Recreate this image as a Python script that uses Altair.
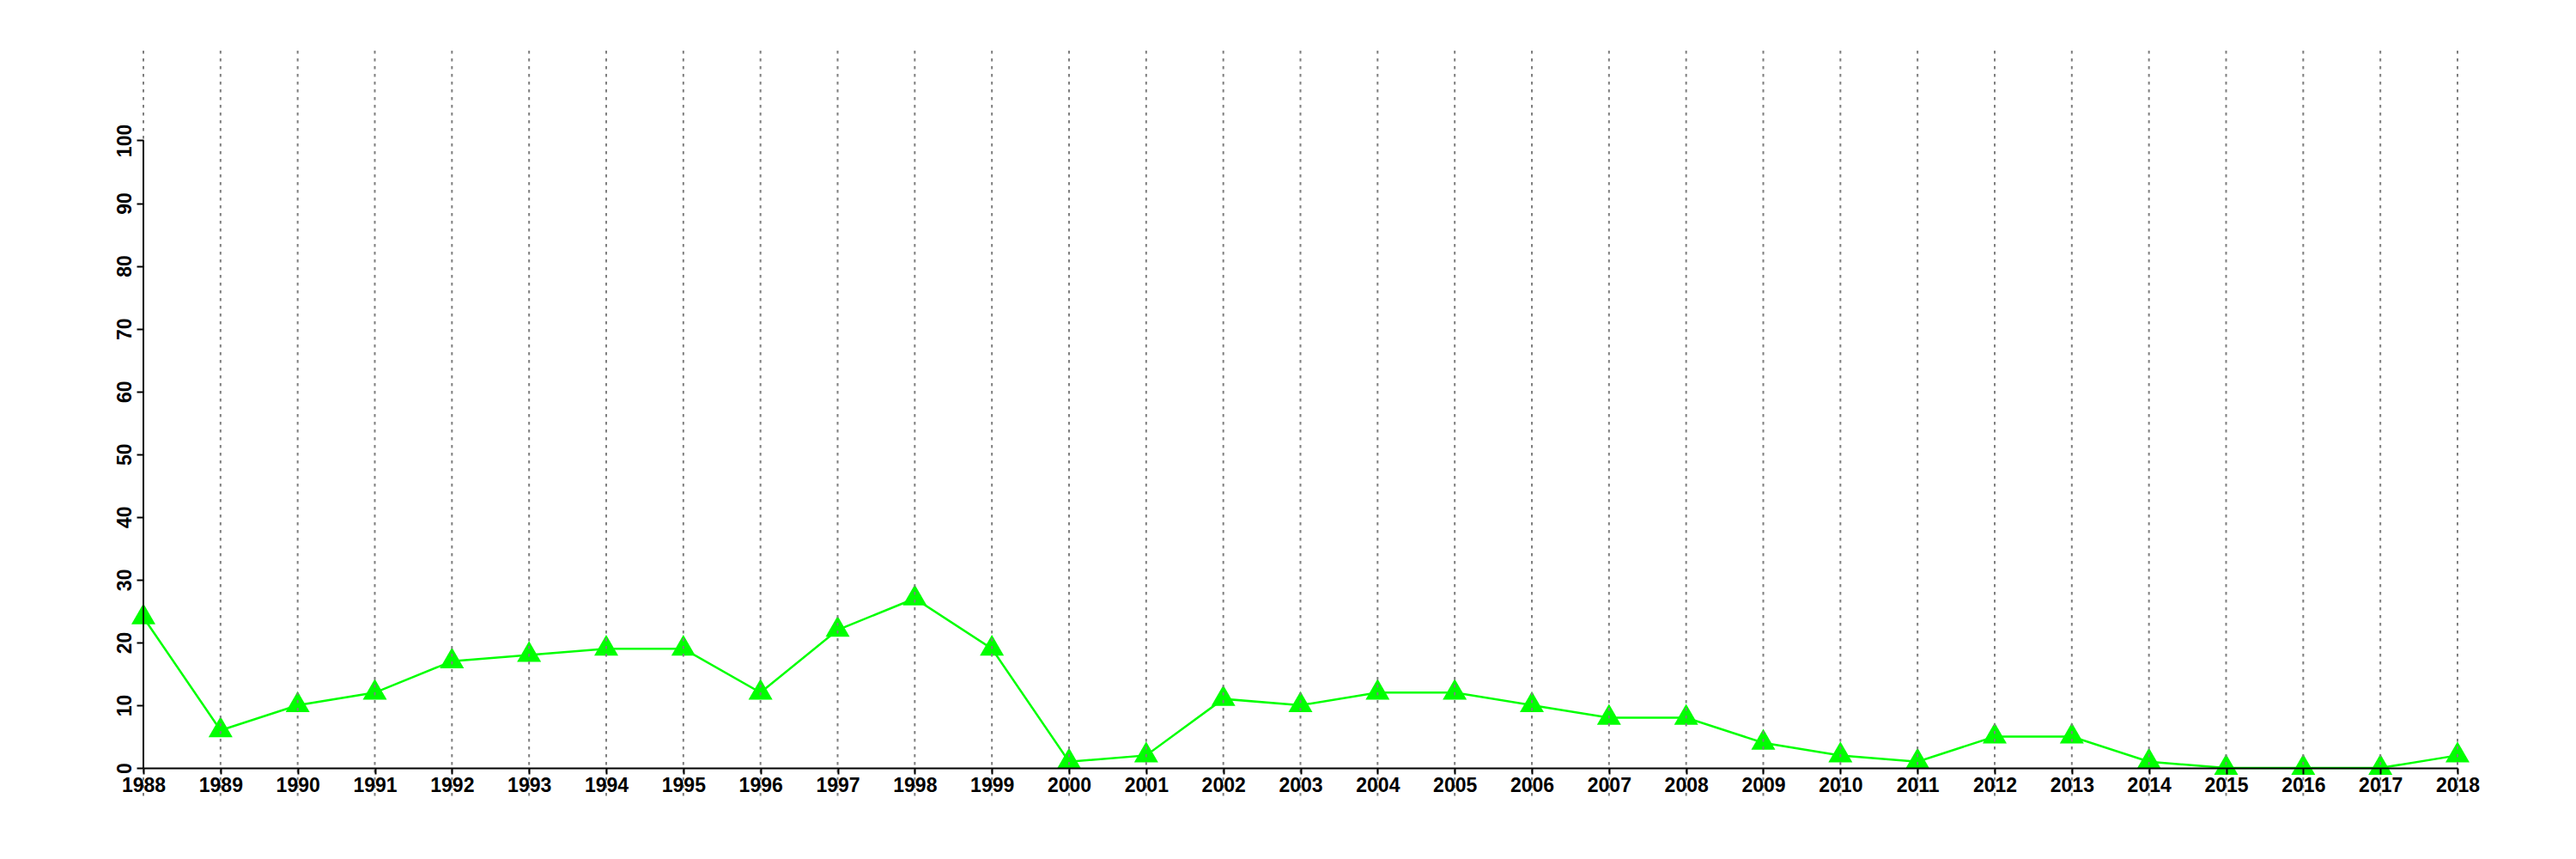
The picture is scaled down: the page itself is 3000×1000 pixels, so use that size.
import altair as alt
import pandas as pd

years = list(range(1988, 2019))
values = [24, 6, 10, 12, 17, 18, 19, 19, 12, 22, 27, 19, 1, 2, 11, 10, 12, 12,
          10, 8, 8, 4, 2, 1, 5, 5, 1, 0, 0, 0, 2]
y_ticks = [0, 10, 20, 30, 40, 50, 60, 70, 80, 90, 100]

df = pd.DataFrame({"year": years, "value": values})
axis_df = pd.DataFrame({"lo": [min(y_ticks)], "hi": [max(y_ticks)], "x": [min(years)]})

FONT = "Liberation Sans"
GREEN = "#00FF00"

xscale = alt.Scale(domain=[min(years), max(years)], nice=False, zero=False)
yscale = alt.Scale(domain=[0, 114.3], nice=False, zero=True)

xaxis = alt.Axis(values=years, format="d", title=None, grid=False,
                 labelFont=FONT, labelFontSize=23, labelFontWeight="bold",
                 labelColor="black", tickColor="black", tickWidth=2, tickSize=7,
                 domainColor="black", domainWidth=2, labelPadding=2,
                 labelAngle=0, labelOverlap=False, labelFlush=False, zindex=1)
yaxis = alt.Axis(values=y_ticks, title=None, grid=False, domain=False,
                 labelFont=FONT, labelFontSize=23, labelFontWeight="bold",
                 labelColor="black", tickColor="black", tickWidth=2, tickSize=8,
                 labelAngle=270, labelAlign="center", labelBaseline="alphabetic",
                 labelPadding=7, labelOverlap=False, labelFlush=False, zindex=1)

base = alt.Chart(df)

line = base.mark_line(color=GREEN, strokeWidth=2.5).encode(
    x=alt.X("year:Q", scale=xscale, axis=xaxis),
    y=alt.Y("value:Q", scale=yscale, axis=yaxis),
)

tri_path = "M0,-1.1547L1,0.5774L-1,0.5774Z"
points = base.mark_point(shape=tri_path, filled=True, size=784, color=GREEN,
                         opacity=1, strokeWidth=0).encode(
    x=alt.X("year:Q", scale=xscale),
    y=alt.Y("value:Q", scale=yscale),
)

grid = base.mark_rule(color="#7f7f7f", strokeWidth=2, strokeDash=[3.5, 5.5]).encode(
    x=alt.X("year:Q", scale=xscale),
    y=alt.value(0),
    y2=alt.value(868),
)

yline = alt.Chart(axis_df).mark_rule(color="black", strokeWidth=2).encode(
    x=alt.X("x:Q", scale=xscale),
    y=alt.Y("lo:Q", scale=yscale),
    y2="hi:Q",
)

chart = alt.layer(line, points, grid, yline).properties(
    width=2695,
    height=835,
    autosize=alt.AutoSizeParams(type="none"),
    padding={"left": 159, "top": 51, "right": 120, "bottom": 100},
    background="white",
).configure_view(stroke=None)

chart.save("out.html", embed_options={"renderer": "svg", "actions": False})
